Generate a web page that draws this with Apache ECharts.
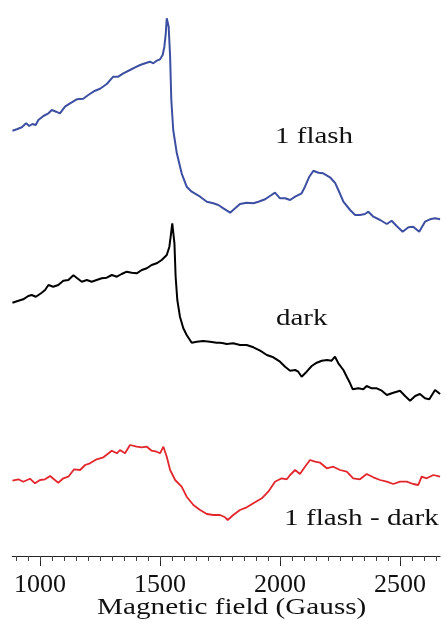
<!DOCTYPE html>
<html>
<head>
<meta charset="utf-8">
<script src="https://cdn.jsdelivr.net/npm/echarts@6/dist/echarts.min.js"></script>
<style>
  html, body { margin: 0; padding: 0; background: #ffffff; }
  #chart { width: 445px; height: 624px; }
</style>
</head>
<body>
<div id="chart"></div>
<script>
// EPR spectra: field in Gauss, signal in arbitrary units (relative to each trace's start)
const flashField = [885, 903, 924, 942, 955, 968, 982, 993, 1014, 1035, 1049, 1067, 1083, 1104, 1125, 1153, 1180, 1201, 1229, 1250, 1278, 1305, 1326, 1347, 1375, 1396, 1417, 1438, 1458, 1472, 1486, 1500, 1511, 1518, 1524, 1528, 1532, 1536, 1542, 1547, 1555, 1570, 1590, 1611, 1632, 1667, 1695, 1722, 1743, 1764, 1771, 1792, 1813, 1833, 1861, 1889, 1910, 1938, 1958, 1979, 2000, 2021, 2042, 2063, 2090, 2104, 2122, 2139, 2160, 2180, 2208, 2229, 2243, 2264, 2292, 2313, 2333, 2354, 2368, 2389, 2417, 2445, 2465, 2486, 2511, 2535, 2555, 2580, 2604, 2625, 2646, 2667];
const flashSignal = [-0.7, 0.7, 2.7, 6.7, 4, 6, 5, 10, 14, 16.7, 20, 18.3, 16.7, 23.3, 26.7, 30.7, 31.3, 35, 39.3, 41.3, 46, 53.3, 53.3, 56.7, 60, 62.7, 65, 66.7, 68.3, 66.7, 69.3, 70.7, 75, 83.3, 96.7, 111.7, 110, 103.3, 73.3, 30, 0, -23.3, -43.3, -56.7, -61.7, -66.7, -71.7, -73.3, -75, -78.3, -79.3, -82.7, -78.3, -74, -72.7, -73.3, -71.7, -69.3, -66, -62.7, -68.3, -68.3, -70, -66.7, -63.3, -56.7, -46.7, -40.7, -42.7, -43.3, -47.3, -52.7, -60, -71.7, -80, -85, -85, -84, -81.7, -86.7, -90, -94, -90.7, -96, -101.7, -97.3, -96.7, -101.7, -91.7, -89.3, -88.3, -89.3];

const darkField = [885, 910, 930, 951, 965, 983, 1007, 1021, 1035, 1055, 1076, 1097, 1118, 1139, 1155, 1174, 1195, 1215, 1236, 1257, 1278, 1299, 1320, 1340, 1361, 1382, 1403, 1424, 1445, 1465, 1486, 1507, 1528, 1539, 1546, 1551, 1555, 1560, 1565, 1572, 1583, 1597, 1611, 1632, 1653, 1680, 1708, 1736, 1750, 1764, 1778, 1805, 1833, 1861, 1889, 1917, 1945, 1972, 2000, 2021, 2042, 2063, 2076, 2090, 2111, 2132, 2153, 2174, 2196, 2215, 2229, 2243, 2264, 2278, 2292, 2303, 2326, 2347, 2361, 2382, 2403, 2424, 2445, 2472, 2500, 2521, 2542, 2563, 2583, 2604, 2622, 2646, 2667];
const darkSignal = [0.3, 2.3, 3.7, 7, 8, 6.3, 10.3, 13, 18, 16.3, 18, 22.3, 23, 27.7, 24.7, 21.3, 23, 21.3, 23, 24.7, 25.3, 28, 26.3, 29, 31.3, 30.3, 29.7, 33, 34.7, 38, 39.7, 43, 48, 56.3, 69.7, 79.7, 78, 59.7, 26.3, 3, -13.7, -25.3, -32, -39.7, -38.7, -38, -38.7, -39.7, -39.7, -40.3, -41, -40.3, -42, -42, -44.3, -47.7, -52, -54.3, -58.7, -63.7, -67.7, -67, -68.7, -73.7, -68.7, -63, -59.7, -57.7, -57, -57.7, -53.7, -60.3, -67, -73.7, -80.3, -86.3, -85.3, -86.3, -83, -85.3, -85.3, -87.7, -92, -89.7, -87.7, -93, -97.7, -93, -91, -95.3, -96.3, -87, -91];

const diffField = [885, 910, 930, 958, 979, 1000, 1021, 1042, 1058, 1076, 1097, 1118, 1142, 1167, 1188, 1208, 1236, 1264, 1299, 1320, 1333, 1354, 1375, 1403, 1424, 1445, 1465, 1486, 1500, 1514, 1521, 1528, 1542, 1563, 1590, 1611, 1639, 1667, 1695, 1722, 1750, 1771, 1782, 1805, 1833, 1861, 1889, 1924, 1951, 1979, 2007, 2028, 2042, 2063, 2083, 2104, 2125, 2146, 2167, 2195, 2222, 2250, 2278, 2305, 2333, 2361, 2389, 2417, 2445, 2472, 2500, 2528, 2555, 2576, 2590, 2611, 2639, 2667];
const diffSignal = [0.3, 1.7, -0.7, 2.3, -2.3, 1, 1.7, 5, 1.7, -1.7, 2.7, 4.3, 11.7, 11, 16, 17.7, 21.7, 23.7, 30.3, 27.7, 31, 27.7, 36, 34.3, 33.7, 34.3, 30.3, 29.3, 27.7, 34.3, 35, 24.3, 11, 1, -5.7, -15.7, -24, -29, -33, -34, -34, -36.3, -39, -34, -29, -26.3, -22.3, -17.3, -10.7, -0.7, 2.7, 1.7, 6, 11, 7, 14.3, 21, 19.3, 18.3, 12.7, 14.3, 11, 9.3, 2.7, 1.7, 7, 3.7, 1, -0.7, -3, -0.7, -0.7, -3, -4, 4.3, 2.7, 6, 4.3];

// vertical stacking of the three traces
const flashOffset = 426;
const darkOffset = 253;
const diffOffset = 75;

const traceNames = ['1 flash', 'dark', '1 flash - dark'];
const axisTitle = 'Magnetic field (Gauss)';
const majorTicks = [1000, 1500, 2000, 2500];
const minorTicks = [];
for (let g = 900; g <= 2650; g += 50) minorTicks.push(g);

const fieldMin = 884;
const fieldMax = 2667;

const toPoints = (field, signal, offset) => field.map((g, i) => [g, offset + signal[i]]);

const serifFont = '"Liberation Serif", "Times New Roman", serif';

const chart = echarts.init(document.getElementById('chart'), null, { renderer: 'canvas' });

// wide serif caption, anchored at its left edge or centre
const caption = (text, x, y, align, scaleX) => ({
  type: 'text',
  x: x, y: y,
  scaleX: scaleX,
  style: {
    text: text,
    font: '23px ' + serifFont,
    fill: '#111111',
    verticalAlign: 'middle',
    align: align
  }
});

chart.setOption({
  animation: false,
  backgroundColor: '#ffffff',
  grid: { left: 12.2, right: 4.9, top: 0, bottom: 68, containLabel: false },
  xAxis: [
    {
      type: 'value',
      min: fieldMin,
      max: fieldMax,
      position: 'bottom',
      splitLine: { show: false },
      axisLine: { show: true, lineStyle: { color: '#222222', width: 1 } },
      axisTick: { show: true, customValues: majorTicks, length: 10, lineStyle: { color: '#222222', width: 1 } },
      axisLabel: {
        customValues: majorTicks,
        margin: 16,
        color: '#111111',
        fontFamily: serifFont,
        fontSize: 26,
        formatter: (v) => String(v)
      }
    },
    {
      type: 'value',
      min: fieldMin,
      max: fieldMax,
      position: 'bottom',
      splitLine: { show: false },
      axisLine: { show: false },
      axisTick: { show: true, customValues: minorTicks, length: 5, lineStyle: { color: '#444444', width: 1 } },
      axisLabel: { show: false }
    }
  ],
  yAxis: { type: 'value', min: 0, max: 556, show: false, splitLine: { show: false } },
  series: [
    {
      name: traceNames[0], type: 'line', xAxisIndex: 0, symbol: 'none',
      lineStyle: { color: '#3d4fa3', width: 2 },
      data: toPoints(flashField, flashSignal, flashOffset)
    },
    {
      name: traceNames[1], type: 'line', xAxisIndex: 0, symbol: 'none',
      lineStyle: { color: '#000000', width: 2 },
      data: toPoints(darkField, darkSignal, darkOffset)
    },
    {
      name: traceNames[2], type: 'line', xAxisIndex: 0, symbol: 'none',
      lineStyle: { color: '#e3262c', width: 1.8 },
      data: toPoints(diffField, diffSignal, diffOffset)
    }
  ],
  graphic: [
    caption(traceNames[0], 275, 137, 'left', 1.26),
    caption(traceNames[1], 276, 319, 'left', 1.26),
    caption(traceNames[2], 284, 519, 'left', 1.27),
    caption(axisTitle, 231.7, 608, 'center', 1.27)
  ]
});
</script>
</body>
</html>
